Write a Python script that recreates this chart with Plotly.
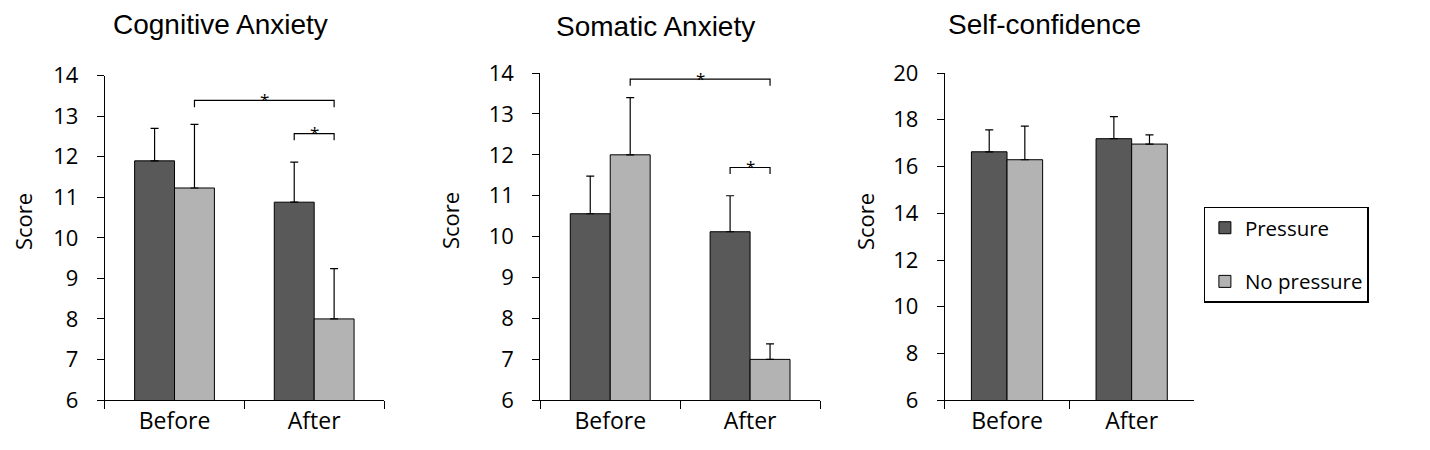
import plotly.graph_objects as go

# ---------------- data ----------------
categories = ["Before", "After"]
groups = ["Pressure", "No pressure"]

cog_pressure = [11.9, 10.88]
cog_pressure_err = [0.8, 0.99]
cog_nopressure = [11.23, 8.0]
cog_nopressure_err = [1.57, 1.24]

som_pressure = [10.56, 10.12]
som_pressure_err = [0.92, 0.88]
som_nopressure = [12.0, 7.0]
som_nopressure_err = [1.4, 0.38]

conf_pressure = [16.63, 17.19]
conf_pressure_err = [0.94, 0.94]
conf_nopressure = [16.29, 16.96]
conf_nopressure_err = [1.44, 0.39]

panel_titles = ["Cognitive Anxiety", "Somatic Anxiety", "Self-confidence"]
y_title = "Score"

# significance brackets: (from bar, to bar, height, drop-to)
# bar = (category index, group index)
cog_brackets = [((0, 1), (1, 1), 13.39, 13.22), ((1, 0), (1, 1), 12.57, 12.41)]
som_brackets = [((0, 1), (1, 1), 13.85, 13.69), ((1, 0), (1, 1), 11.69, 11.53)]

# ---------------- styling ----------------
FONT = "Open Sans"
TITLE_FONT = "Liberation Sans"
DARK = "#595959"
LIGHT = "#b3b3b3"
BARGAP = 0.4286
bar_w = (1 - BARGAP) / 2
OFF = 8  # page body margin, positions below are screen pixels

panels = [
    dict(p=cog_pressure, pe=cog_pressure_err, n=cog_nopressure, ne=cog_nopressure_err,
         rng=[6, 14], dt=1, br=cog_brackets,
         xdom=[104.7, 384.0], ydom=[400.0, 75.7], title_xy=(220.5, 8), ytitle_xy=(23, 222)),
    dict(p=som_pressure, pe=som_pressure_err, n=som_nopressure, ne=som_nopressure_err,
         rng=[6, 14], dt=1, br=som_brackets,
         xdom=[540.3, 820.0], ydom=[400.3, 73.0], title_xy=(655, 10), ytitle_xy=(450, 221)),
    dict(p=conf_pressure, pe=conf_pressure_err, n=conf_nopressure, ne=conf_nopressure_err,
         rng=[6, 20], dt=2, br=[],
         xdom=[944.7, 1194.0], ydom=[400.3, 73.0], title_xy=(1044.5, 8), ytitle_xy=(865, 222)),
]

W, H = 1430, 450


def px(x):
    return (x - OFF) / W


def py(y):
    return 1 - (y - OFF) / H


fig = go.Figure()
shapes = []
annotations = []

for i, pn in enumerate(panels):
    k = "" if i == 0 else str(i + 1)
    xa, ya = "x" + k, "y" + k
    for j, (vals, errs, col) in enumerate([(pn["p"], pn["pe"], DARK), (pn["n"], pn["ne"], LIGHT)]):
        fig.add_trace(go.Bar(
            x=categories, y=vals, name=groups[j], marker_color=col,
            marker_line=dict(color="black", width=1),
            error_y=dict(type="data", symmetric=False, array=errs, arrayminus=[0] * len(errs),
                         color="black", thickness=1.2, width=4),
            xaxis=xa, yaxis=ya, legendgroup=groups[j], showlegend=(i == 2),
        ))

    fig.layout["xaxis" + k] = dict(
        domain=[px(pn["xdom"][0]), px(pn["xdom"][1])], anchor=ya, automargin=False,
        type="category", range=[-0.5, 1.5], showline=True, linecolor="black", linewidth=1,
        ticks="outside", tickson="boundaries", ticklen=8, tickcolor="black",
        tickfont=dict(size=23, family=FONT, color="black"), showgrid=False, zeroline=False,
    )
    fig.layout["yaxis" + k] = dict(
        domain=[py(pn["ydom"][0]), py(pn["ydom"][1])], anchor=xa, automargin=False,
        range=pn["rng"], dtick=pn["dt"], tick0=pn["rng"][0],
        showline=True, linecolor="black", linewidth=1,
        ticks="outside", ticklen=7, tickcolor="black", ticklabelstandoff=14,
        tickfont=dict(size=22, family=FONT, color="black"), showgrid=False, zeroline=False,
    )

    for (c0, g0), (c1, g1), top, low in pn["br"]:
        x0 = c0 + (g0 - 0.5) * bar_w
        x1 = c1 + (g1 - 0.5) * bar_w
        shapes.append(dict(
            type="path", xref=xa, yref=ya,
            path=f"M {x0},{low} L {x0},{top} L {x1},{top} L {x1},{low}",
            line=dict(color="black", width=1.2),
        ))
        annotations.append(dict(
            x=(x0 + x1) / 2, y=top, xref=xa, yref=ya, text="*", showarrow=False,
            yanchor="middle", yshift=1, font=dict(size=17, family=FONT, color="black"),
        ))

    tx, ty = pn["title_xy"]
    annotations.append(dict(
        x=px(tx), y=py(ty), xref="paper", yref="paper", text=panel_titles[i],
        showarrow=False, xanchor="center", yanchor="top", borderpad=0,
        font=dict(size=28, family=TITLE_FONT, color="black"),
    ))
    sx, sy = pn["ytitle_xy"]
    annotations.append(dict(
        x=px(sx), y=py(sy), xref="paper", yref="paper", text=y_title, textangle=-90,
        showarrow=False, xanchor="center", yanchor="middle",
        font=dict(size=22, family=FONT, color="black"),
    ))

fig.update_layout(
    width=W, height=H, margin=dict(l=0, r=0, t=0, b=0, autoexpand=False),
    paper_bgcolor="white", plot_bgcolor="white",
    barmode="group", bargap=BARGAP, bargroupgap=0,
    font=dict(family=FONT, color="black"),
    shapes=shapes, annotations=annotations,
    legend=dict(
        x=px(1203.7), y=py(206.7), xanchor="left", yanchor="top",
        bordercolor="black", borderwidth=1.2, bgcolor="white",
        font=dict(size=20.5, family=FONT, color="black"),
        traceorder="grouped", tracegroupgap=24,
    ),
)

fig.write_html("out.html")
